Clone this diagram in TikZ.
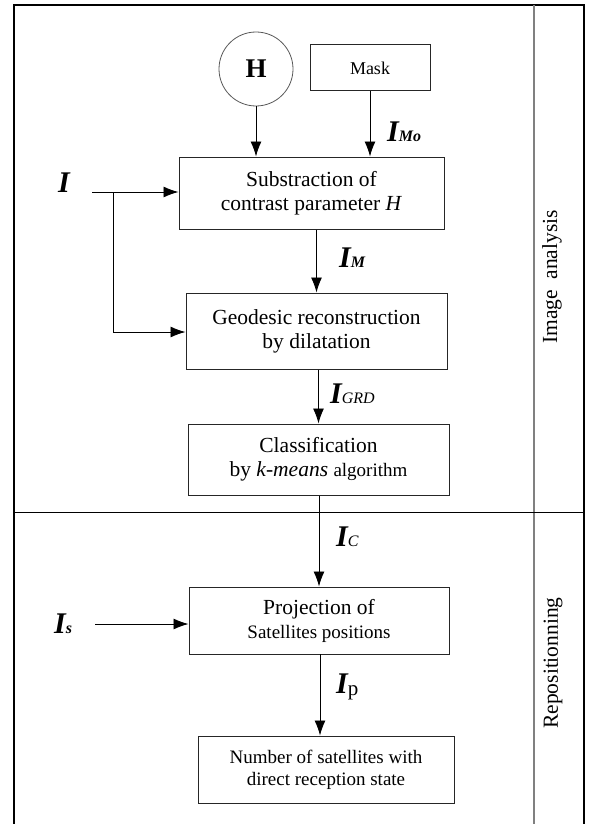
\documentclass[tikz,border=0pt]{standalone}
\usepackage{fontspec}
\setmainfont{Liberation Serif}
\usetikzlibrary{arrows.meta}
\tikzset{
  blk/.style={draw=black!85, line width=1pt, align=center, inner sep=0pt,
    font=\fontsize{21.5}{24}\selectfont},
  arr/.style={draw=black, line width=0.9pt, -{Latex[length=15pt,width=11pt]}},
  lbl/.style={anchor=west, inner sep=0pt},
  side/.style={rotate=90, inner sep=0pt, font=\fontsize{21.5}{24}\selectfont}
}
\newcommand{\bigI}{{\fontsize{30}{30}\selectfont\bfseries\itshape I}}
\newcommand{\subsc}[1]{{\fontsize{16}{16}\selectfont\bfseries\itshape #1}}
\begin{document}
\begin{tikzpicture}[x=1pt,y=-1pt]
\useasboundingbox (0,0) rectangle (591,824);
% frame
\draw[line width=1.3pt, black] (14,824) -- (14,5) -- (584,5) -- (584,824);
\draw[line width=2pt, black!50] (534,5) -- (534,824);
\draw[line width=1pt, black] (14,512) -- (584,512);
\node[side] (ia) at (552,277) {Image\ \ analysis};
\node[side] (rp) at (553,663) {Repositionning};
% nodes
\node[draw=black!65, line width=0.8pt, circle, minimum size=74pt, inner sep=0pt,
  font=\fontsize{27}{27}\selectfont\bfseries] (h) at (256,69) {H};
\node[blk, minimum width=120pt, minimum height=46pt, font=\fontsize{18}{20}\selectfont] (mask) at (370,68) {Mask};
\node[blk, minimum width=265pt, minimum height=72pt] (sub) at (311.5,193)
  {Substraction of\\contrast parameter \textit{H}};
\node[blk, minimum width=261pt, minimum height=76pt] (geo) at (316.5,331)
  {Geodesic reconstruction\\by dilatation};
\node[blk, minimum width=261pt, minimum height=71pt] (cls) at (318.5,459.5)
  {Classification\\by \textit{k-means} {\fontsize{19}{24}\selectfont algorithm}};
\node[blk, minimum width=260pt, minimum height=67pt] (proj) at (319,620.5)
  {Projection of\\{\fontsize{19}{24}\selectfont Satellites positions}};
\node[blk, minimum width=256pt, minimum height=67pt, font=\fontsize{19}{22}\selectfont] (num) at (326,769.5)
  {Number of satellites with\\direct reception state};
% labels
\node[lbl] (li) at (58,183) {\bigI};
\node[lbl] (lis) at (54,624) {\bigI\subsc{s}};
\node[lbl] (limo) at (387,132) {\bigI\subsc{Mo}};
\node[lbl] (lim) at (339,258) {\bigI\subsc{M}};
\node[lbl] (ligrd) at (330,394) {\bigI{\fontsize{16}{16}\selectfont\itshape GRD}};
\node[lbl] (lic) at (336,537) {\bigI{\fontsize{16}{16}\selectfont\itshape C}};
\node[lbl] (lip) at (336,687) {\bigI{\fontsize{21}{21}\selectfont\raisebox{-2pt}{p}}};
% connectors
\draw[arr] (h.south) -- (h.south |- sub.north);
\draw[arr] (mask.south) -- (mask.south |- sub.north);
\coordinate (istart) at (92,192);
\coordinate (ij) at (113,192);
\coordinate (ibend) at (113,332);
\draw[arr] (istart) -- (istart -| sub.west);
\draw[arr] (ij) -- (ibend) -- (ibend -| geo.west);
\draw[arr] (geo.north |- sub.south) -- (geo.north);
\draw[arr] (cls.north |- geo.south) -- (cls.north);
\draw[arr] (proj.north |- cls.south) -- (proj.north);
\coordinate (pstart) at (320,654);
\draw[arr] (pstart) -- (pstart |- num.north);
\coordinate (sstart) at (95,624);
\draw[arr] (sstart) -- (sstart -| proj.west);
\end{tikzpicture}
\end{document}
